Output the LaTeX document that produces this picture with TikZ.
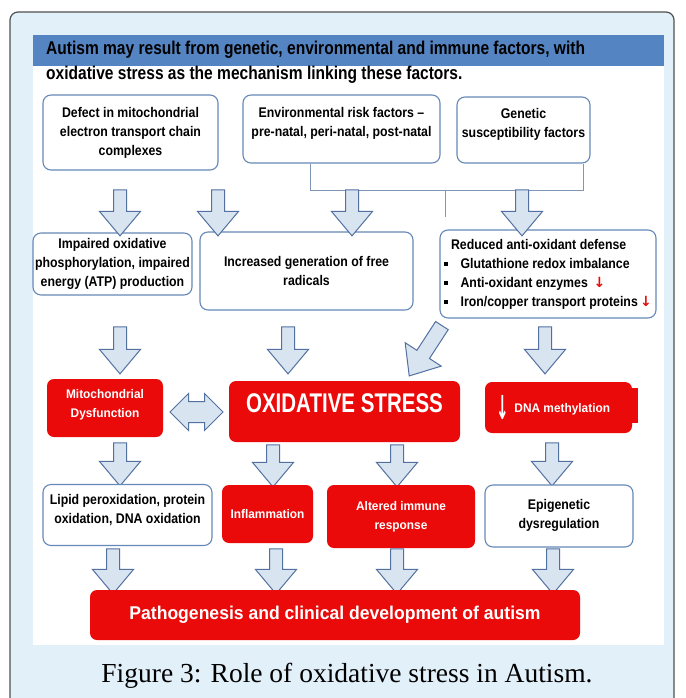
\documentclass[tikz,border=0pt]{standalone}
\usepackage{graphicx}
\usepackage{fontspec}
\setmainfont{Liberation Serif}
\newfontfamily\nb[FakeStretch=0.88]{Liberation Sans}
\newfontfamily\nh[FakeStretch=0.84]{Liberation Sans}
\newfontfamily\nr[FakeStretch=0.95]{Liberation Sans}
\newfontfamily\nx[FakeStretch=0.76]{Liberation Sans}
\newfontfamily\dv{DejaVu Sans}
\usetikzlibrary{shapes.arrows}
\definecolor{bgc}{HTML}{E2F0FA}
\definecolor{framec}{HTML}{505050}
\definecolor{headc}{HTML}{5584C2}
\definecolor{bordc}{HTML}{6688B8}
\definecolor{redc}{HTML}{EA0A0A}
\definecolor{arrf}{HTML}{D9E4F1}
\definecolor{arrd}{HTML}{5371A0}
\definecolor{connc}{HTML}{8096B8}
\newcommand{\bul}{\rule[2.5pt]{3.5pt}{3.5pt}\hspace{13pt}}
\newcommand{\rdn}{{\dv\bfseries\color{redc}\,↓}}
\begin{document}
\begin{tikzpicture}[x=1pt,y=-1pt,
  box/.style={draw=bordc,line width=1.1pt,rounded corners=8pt,fill=white,align=center,inner sep=1pt,
    font=\nb\bfseries\fontsize{14}{19}\selectfont},
  redbox/.style={fill=redc,rounded corners=7pt,text=white,align=center,inner sep=1pt,
    font=\nr\bfseries\fontsize{12.5}{19}\selectfont},
  barrow/.style={single arrow,draw=arrd,fill=arrf,line width=1pt,inner sep=6pt,
    single arrow head extend=14pt,minimum width=40pt,single arrow tip angle=80,shape border rotate=270},
  darrow/.style={double arrow,draw=arrd,fill=arrf,line width=1pt,inner sep=10pt,
    double arrow head extend=8pt,minimum width=36pt,double arrow tip angle=90},
  conn/.style={draw=connc,line width=0.8pt}]
\useasboundingbox (0,0) rectangle (685,698);
\clip (0,0) rectangle (685,698);
% frame
\draw[fill=bgc,draw=framec,line width=1.2pt,rounded corners=8pt] (10,12) rectangle (674,720);
\fill[white] (33,35) rectangle (664,645);
\fill[headc] (33,35) rectangle (664,66);
\node[anchor=west,align=left,inner sep=0pt,font=\nh\bfseries\fontsize{18.5}{25}\selectfont] (title) at (46,62.5)
  {Autism may result from genetic, environmental and immune factors, with\\oxidative stress as the mechanism linking these factors.};
% row 1
\node[box,minimum width=175,minimum height=75] (defect) at (130.5,132.5)
  {Defect in mitochondrial\\electron transport chain\\complexes};
\node[box,minimum width=197,minimum height=68] (env) at (341.5,129)
  {Environmental risk factors –\\pre-natal, peri-natal, post-natal\\[-4pt]\mbox{}};
\node[box,minimum width=133,minimum height=66] (gen) at (523.5,130)
  {Genetic\\susceptibility factors\\[-4pt]\mbox{}};
\coordinate (jn) at (445,190);
\coordinate (jend) at (445,217);
\draw[conn] ([xshift=-31.5pt]env.south) -- (310,190) -| ([xshift=59.5pt]gen.south);
\draw[conn] (jn) -- (jend);
% row 2
\node[box,minimum width=159,minimum height=62] (imp) at (112.5,264)
  {Impaired oxidative\\phosphorylation, impaired\\energy (ATP) production};
\node[box,minimum width=213,minimum height=78] (incr) at (306.5,271)
  {\mbox{}\\[-8pt]Increased generation of free\\radicals};
\node[box,minimum width=216,minimum height=88,align=left] (red) at (548,274)
  {\hspace{7pt}Reduced anti-oxidant defense\\
   \bul Glutathione redox imbalance\\
   \bul Anti-oxidant enzymes\ \rdn\\
   \bul Iron/copper transport proteins\rdn};
% arrows row 1
\node[barrow,minimum height=46] (a1) at (120,209) {};
\node[barrow,minimum height=46] (a2) at (218,209) {};
\node[barrow,minimum height=46] (a3) at (352,209) {};
\node[barrow,minimum height=46] (a4) at (522,209) {};
% arrows row 2
\node[barrow,minimum height=47] (b1) at (120,346.5) {};
\node[barrow,minimum height=47] (b2) at (288,346.5) {};
\node[barrow,minimum height=47] (b3) at (545,346.5) {};
\node[barrow,minimum height=60,inner sep=7pt,rotate=-33] (bd) at (428,347) {};
% row 3
\node[redbox,minimum width=116,minimum height=58] (mito) at (105,408)
  {Mitochondrial\\Dysfunction\\[-10pt]\mbox{}};
\node[redbox,minimum width=231,minimum height=61,inner sep=0pt,text height=31,text depth=30,
  font=\nx\bfseries\fontsize{27}{30}\selectfont] (ox) at (344.5,411.5) {OXIDATIVE STRESS};
\fill[redc] (628,388) rectangle (638,423);
\node[redbox,minimum width=147,minimum height=51] (dna) at (558.5,407.5)
  {{\dv\fontsize{15}{15}\selectfont\raisebox{-7pt}{\scalebox{1}[2.2]{↓}}}\hspace{5pt}DNA methylation\hspace{10pt}};
\node[darrow,minimum height=53] (dbl) at (196.5,412) {};
% arrows row 3
\node[barrow,minimum height=43] (c1) at (120,460.5) {};
\node[barrow,minimum height=42] (c2) at (273,462) {};
\node[barrow,minimum height=42] (c3) at (397,462) {};
\node[barrow,minimum height=43] (c4) at (552,460.5) {};
% row 4
\node[box,minimum width=169,minimum height=61] (lipid) at (127.5,515)
  {Lipid peroxidation, protein\\oxidation, DNA oxidation\\[-6pt]\mbox{}};
\node[redbox,minimum width=91,minimum height=58] (infl) at (267.5,514) {Inflammation};
\node[redbox,minimum width=148,minimum height=63] (alt) at (401,516.5)
  {\mbox{}\\[-10pt]Altered immune\\response};
\node[box,minimum width=148,minimum height=62] (epi) at (559,516)
  {\mbox{}\\[-10pt]Epigenetic\\dysregulation};
% arrows row 4
\node[barrow,minimum height=45] (d1) at (113,567.5) {};
\node[barrow,minimum height=45] (d2) at (276,567.5) {};
\node[barrow,minimum height=45] (d3) at (397,567.5) {};
\node[barrow,minimum height=45] (d4) at (553,567.5) {};
% bottom
\node[redbox,minimum width=490,minimum height=50,font=\nr\bfseries\fontsize{18.5}{22}\selectfont] (path) at (335,615)
  {Pathogenesis and clinical development of autism};
\node[inner sep=0pt,anchor=base,font=\fontsize{27.5}{32}\selectfont] (cap) at (347,682)
  {Figure 3: Role of oxidative stress in Autism.};
\end{tikzpicture}
\end{document}
